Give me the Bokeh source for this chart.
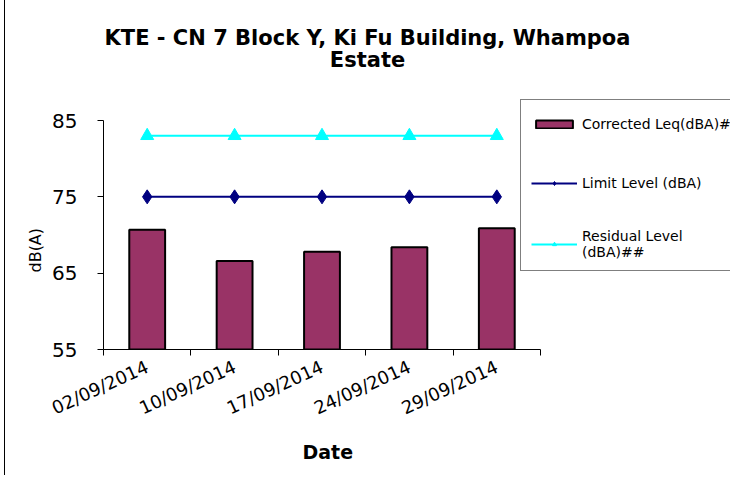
from bokeh.plotting import figure
from bokeh.models import Range1d, FixedTicker, Legend, LegendItem, Title, Label
from bokeh.embed import file_html
from bokeh.resources import INLINE

dates = ["02/09/2014", "10/09/2014", "17/09/2014", "24/09/2014", "29/09/2014"]
corrected = [70.7, 66.6, 67.8, 68.4, 70.9]
limit = [75, 75, 75, 75, 75]
residual = [83, 83, 83, 83, 83]
y_ticks = [55, 65, 75, 85]
title_lines = ["KTE - CN 7 Block Y, Ki Fu Building, Whampoa", "Estate"]

FONT = "DejaVu Sans"
n = len(dates)
xc = [i + 0.5 for i in range(n)]

# layout (page pixels)
SHIFT = 5                      # figure starts 5px in (left rule)
W, H = 725, 475
LEFT_PX, RIGHT_DATA_PX = 103, 540
TOP_TICK_PX, BOTTOM_PX = 120, 349
LEFT = LEFT_PX - SHIFT
DATA_W = RIGHT_DATA_PX - LEFT_PX
FRAME_W = W - LEFT
DATA_H = BOTTOM_PX - TOP_TICK_PX
y0, y1 = y_ticks[0], y_ticks[-1]
x_end = n * FRAME_W / DATA_W
y_end = y0 + (y1 - y0) * BOTTOM_PX / DATA_H

def x_at(px):
    return (px - LEFT_PX) / DATA_W * n

def y_at(py):
    return y0 + (BOTTOM_PX - py) / DATA_H * (y1 - y0)

p = figure(width=W, height=H, output_backend="svg", toolbar_location=None,
           title_location=None,
           x_range=Range1d(0, x_end), y_range=Range1d(y0, y_end),
           min_border_left=LEFT, min_border_right=0, min_border_top=0,
           min_border_bottom=H - BOTTOM_PX)
p.styles = {"border-left": "1px solid black", "margin-left": "4px"}
p.background_fill_color = "white"
p.border_fill_color = "white"
p.outline_line_color = None
p.xgrid.grid_line_color = None
p.ygrid.grid_line_color = None

for txt, py in zip(title_lines, [37, 59]):
    p.add_layout(Label(x=x_at(367), y=y_at(py), text=txt, text_align="center",
                       text_baseline="middle", text_font=FONT, text_font_size="21px",
                       text_font_style="bold", text_color="black"))

bars = p.vbar(x=xc, top=corrected, bottom=y0, width=0.41,
              fill_color="#993366", line_color="black", line_width=2)
l1 = p.line(xc, limit, color="#000080", line_width=2)
m1 = p.scatter(xc, limit, marker="diamond", size=14, color="#000080")
l2 = p.line(xc, residual, color="#00FFFF", line_width=2)
m2 = p.scatter(xc, residual, marker="triangle", size=13, color="#00FFFF")

# y axis
yax = p.yaxis[0]
yax.ticker = FixedTicker(ticks=y_ticks)
yax.bounds = (y0, y1)
yax.major_tick_out = 6
yax.major_tick_in = 0
yax.minor_tick_line_color = None
yax.axis_line_color = "black"
yax.major_tick_line_color = "black"
yax.major_label_text_font = FONT
yax.major_label_text_font_size = "20px"
yax.major_label_text_color = "black"
yax.major_label_standoff = 20

ylab = Title(text="dB(A)", align="left", offset=BOTTOM_PX - 272, text_font=FONT,
             text_font_size="16px", text_font_style="normal", text_color="black",
             standoff=10)
p.add_layout(ylab, "left")

# x axis
xax = p.xaxis[0]
xax.ticker = FixedTicker(ticks=xc, minor_ticks=list(range(n + 1)))
xax.bounds = (-n * 6 / DATA_W, n)
xax.major_tick_line_color = None
xax.minor_tick_line_color = "black"
xax.minor_tick_out = 6
xax.minor_tick_in = 0
xax.axis_line_color = "black"
xax.major_label_overrides = {xc[i]: dates[i] for i in range(n)}
xax.major_label_orientation = 0.43
xax.major_label_standoff = 10
xax.major_label_text_font = FONT
xax.major_label_text_font_size = "18px"
xax.major_label_text_color = "black"

xlab = Title(text="Date", align="left", offset=302 - LEFT_PX, text_font=FONT,
             text_font_size="19px", text_font_style="bold", text_color="black",
             vertical_align="top", standoff=20)
p.add_layout(xlab, "below")

legend = Legend(items=[
    LegendItem(label="Corrected Leq(dBA)#", renderers=[bars]),
    LegendItem(label="Limit Level (dBA)", renderers=[l1, m1]),
    LegendItem(label="Residual Level\n(dBA)##", renderers=[l2, m2]),
], location=(520 - LEFT_PX, 78))
legend.border_line_color = "black"
legend.border_line_width = 1
legend.background_fill_color = "white"
legend.background_fill_alpha = 1
legend.label_text_font = FONT
legend.label_text_font_size = "14px"
legend.label_text_color = "black"
legend.label_text_line_height = 1.25
legend.glyph_width = 46
legend.glyph_height = 10
legend.label_height = 28
legend.spacing = 31
legend.padding = 10
legend.margin = 0
legend.label_standoff = 5
legend.label_width = 220
p.add_layout(legend)

open("out.html", "w").write(file_html(p, INLINE))
